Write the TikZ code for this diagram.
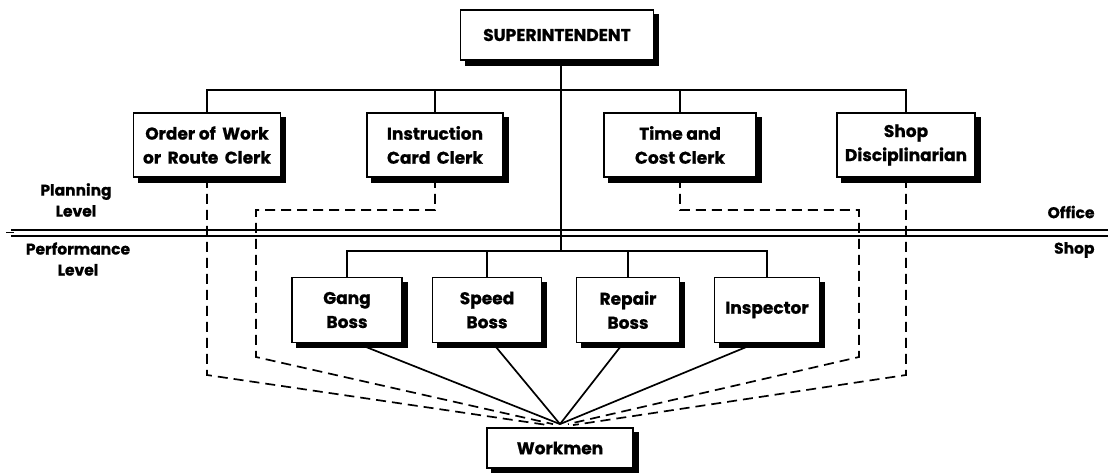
\documentclass[tikz,border=0pt]{standalone}
\usepackage{fontspec}
\setmainfont{Poppins}[BoldFeatures={FakeBold=0.8}]
\usetikzlibrary{calc,backgrounds}
\begin{document}
\begin{tikzpicture}[x=1pt,y=-1pt,
  orgbox/.style={draw, line width=1.8pt, fill=white, align=center,
    font=\fontsize{17}{24}\selectfont\bfseries, inner sep=2pt},
  link/.style={line width=1.7pt},
  dashlink/.style={line width=1.7pt, dash pattern=on 10pt off 6pt},
  lbl/.style={font=\fontsize{15.5}{21}\selectfont\bfseries, align=center}]
\useasboundingbox (0,0) rectangle (1108,472);

% chart boxes
\node[orgbox, minimum width=193pt, minimum height=50pt] (sup) at (557,35) {SUPERINTENDENT};
\node[orgbox, minimum width=147pt, minimum height=64pt] (order) at (207,145) {Order of\ \,Work\\or\ \,Route\ \,Clerk};
\node[orgbox, minimum width=136pt, minimum height=64pt] (instr) at (435,145) {Instruction\\Card\ \,Clerk};
\node[orgbox, minimum width=152pt, minimum height=64pt] (time) at (680,145) {Time and\\Cost Clerk};
\node[orgbox, minimum width=138pt, minimum height=64pt] (disc) at (906,145) {Shop\\Disciplinarian};
\node[orgbox, minimum width=110pt, minimum height=65pt] (gang) at (347,310) {Gang\\Boss};
\node[orgbox, minimum width=109pt, minimum height=65pt] (speed) at (487,310) {Speed\\Boss};
\node[orgbox, minimum width=103pt, minimum height=65pt] (repair) at (628,310) {Repair\\Boss};
\node[orgbox, minimum width=105pt, minimum height=65pt] (insp) at (767,310) {Inspector};
\node[orgbox, minimum width=146pt, minimum height=40pt] (wm) at (560,448) {Workmen};

% drop shadows behind the boxes
\begin{scope}[on background layer]
  \foreach \b in {sup,order,instr,time,disc,gang,speed,repair,insp,wm}
    \fill ([xshift=5pt,yshift=-5pt]\b.south west) rectangle ([xshift=5pt,yshift=-5pt]\b.north east);
\end{scope}

% level labels
\node[lbl] (plan) at (76,200) {Planning\\Level};
\node[lbl] (perf) at (78,259) {Performance\\Level};
\node[lbl, anchor=east] (office) at (1098,212) {Office};
\node[lbl, anchor=east] (shop) at (1098,250) {Shop};

% office / shop division
\coordinate (divL) at (11,229.5);
\coordinate (divR) at (1108,229.5);
\draw[line width=2pt] (divL) -- (divR);
\draw[line width=2pt] ([yshift=-6pt]divL) -- ([yshift=-6pt]divR);
\draw[line width=1.2pt] ([xshift=-5pt,yshift=-3pt]divL) -- ([xshift=3pt,yshift=-3pt]divL);

% planning bus
\coordinate (topbus) at (557,90);
\draw[link] (order.north) |- (topbus) -| (disc.north);
\draw[link] (instr.north) -- (instr.north |- topbus);
\draw[link] (time.north) -- (time.north |- topbus);

% line of authority down to the shop bosses
\coordinate (lowbus) at (561,251);
\draw[link] ([xshift=4pt]sup.south) -- (lowbus);
\draw[link] (gang.north) |- (lowbus) -| (insp.north);
\draw[link] (speed.north) -- (speed.north |- lowbus);
\draw[link] (repair.north) -- (repair.north |- lowbus);

% bosses to workmen
\coordinate (wc) at ($(wm.north)+(0,-3)$);
\draw[link] ($(gang.south)+(10,0)$) -- (wc);
\draw[link] ($(speed.south)+(6,0)$) -- (wc);
\draw[link] ($(repair.south)+(-5,0)$) -- (wc);
\draw[link] ($(insp.south)+(-12,0)$) -- (wc);

% functional (dashed) lines from the planning clerks
\coordinate (bendOL) at (210,375);
\coordinate (bendIL) at (256,210);
\coordinate (bendIL2) at (256,357);
\coordinate (bendIR) at (859,210);
\coordinate (bendIR2) at (859,357);
\coordinate (bendOR) at (902,375);
\draw[dashlink] (order.south) -- (order.south |- bendOL) -- ($(wm.north)+(-12,-2)$);
\draw[dashlink] (instr.south) |- (bendIL) -- (bendIL2) -- ($(wm.north)+(-7,-3)$);
\draw[dashlink] (time.south) |- (bendIR) -- (bendIR2) -- ($(wm.north)+(8,-3)$);
\draw[dashlink] (disc.south) -- (disc.south |- bendOR) -- ($(wm.north)+(13,-2)$);
\end{tikzpicture}
\end{document}
